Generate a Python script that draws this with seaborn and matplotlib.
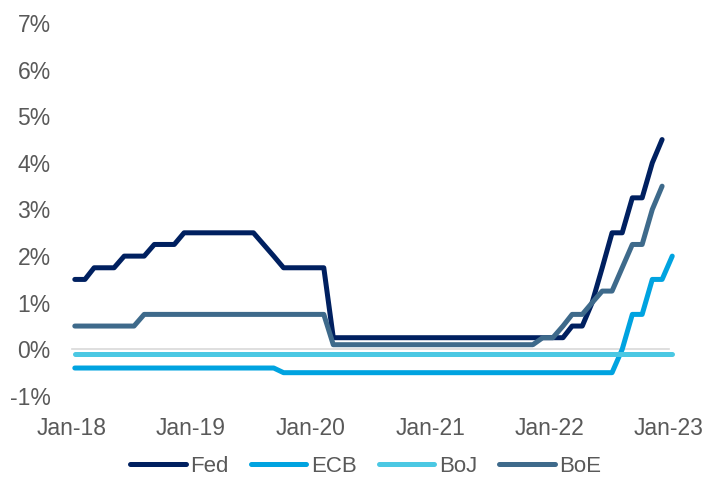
import pandas as pd
import seaborn as sns
import matplotlib.pyplot as plt
import matplotlib.dates as mdates
from matplotlib.ticker import FuncFormatter, MultipleLocator

# Policy rates (%), monthly
# (points sit a little after the 1st of each month in the original)
dates_short = pd.date_range('2018-01-01', '2022-12-01', freq='MS') + pd.Timedelta(days=10)  # Fed, BoE
dates_long = pd.date_range('2018-01-01', '2023-01-01', freq='MS') + pd.Timedelta(days=10)   # ECB, BoJ

fed = [
    1.5, 1.5, 1.75, 1.75, 1.75, 2.0, 2.0, 2.0, 2.25, 2.25, 2.25, 2.5,      # 2018
    2.5, 2.5, 2.5, 2.5, 2.5, 2.5, 2.5, 2.25, 2.0, 1.75, 1.75, 1.75,        # 2019
    1.75, 1.75, 0.25, 0.25, 0.25, 0.25, 0.25, 0.25, 0.25, 0.25, 0.25, 0.25,  # 2020
    0.25, 0.25, 0.25, 0.25, 0.25, 0.25, 0.25, 0.25, 0.25, 0.25, 0.25, 0.25,  # 2021
    0.25, 0.25, 0.5, 0.5, 1.0, 1.75, 2.5, 2.5, 3.25, 3.25, 4.0, 4.5,       # 2022
]
boe = [
    0.5, 0.5, 0.5, 0.5, 0.5, 0.5, 0.5, 0.75, 0.75, 0.75, 0.75, 0.75,
    0.75, 0.75, 0.75, 0.75, 0.75, 0.75, 0.75, 0.75, 0.75, 0.75, 0.75, 0.75,
    0.75, 0.75, 0.1, 0.1, 0.1, 0.1, 0.1, 0.1, 0.1, 0.1, 0.1, 0.1,
    0.1, 0.1, 0.1, 0.1, 0.1, 0.1, 0.1, 0.1, 0.1, 0.1, 0.1, 0.25,
    0.25, 0.5, 0.75, 0.75, 1.0, 1.25, 1.25, 1.75, 2.25, 2.25, 3.0, 3.5,
]
ecb = [
    -0.4, -0.4, -0.4, -0.4, -0.4, -0.4, -0.4, -0.4, -0.4, -0.4, -0.4, -0.4,
    -0.4, -0.4, -0.4, -0.4, -0.4, -0.4, -0.4, -0.4, -0.4, -0.5, -0.5, -0.5,
    -0.5, -0.5, -0.5, -0.5, -0.5, -0.5, -0.5, -0.5, -0.5, -0.5, -0.5, -0.5,
    -0.5, -0.5, -0.5, -0.5, -0.5, -0.5, -0.5, -0.5, -0.5, -0.5, -0.5, -0.5,
    -0.5, -0.5, -0.5, -0.5, -0.5, -0.5, -0.5, 0.0, 0.75, 0.75, 1.5, 1.5,
    2.0,
]
boj = [-0.1] * len(dates_long)

series = ['Fed', 'ECB', 'BoJ', 'BoE']
colors = ['#002060', '#00A3E0', '#4BC8E3', '#3E6A8B']

frames = [
    pd.DataFrame({'date': dates_short, 'rate': fed, 'bank': 'Fed'}),
    pd.DataFrame({'date': dates_long, 'rate': ecb, 'bank': 'ECB'}),
    pd.DataFrame({'date': dates_long, 'rate': boj, 'bank': 'BoJ'}),
    pd.DataFrame({'date': dates_short, 'rate': boe, 'bank': 'BoE'}),
]
df = pd.concat(frames, ignore_index=True)

sns.set_style('white')
plt.rcParams['font.family'] = ['Liberation Sans', 'DejaVu Sans']
grey = '#595959'

fig = plt.figure(figsize=(7.24, 4.79), dpi=100)
ax = fig.add_axes([0.0988, 0.1733, 0.9240 - 0.0988, 0.952 - 0.1733])

sns.lineplot(data=df, x='date', y='rate', hue='bank', hue_order=series,
             palette=dict(zip(series, colors)), linewidth=3.6, ax=ax,
             legend=False)
for line in ax.get_lines():
    line.set_solid_capstyle('round')
    line.set_solid_joinstyle('round')
    line.set_clip_on(False)

ax.set_ylim(-1, 7)
ax.set_xlim(pd.Timestamp('2018-01-01'), pd.Timestamp('2023-01-01'))
ax.yaxis.set_major_locator(MultipleLocator(1))
ax.yaxis.set_major_formatter(FuncFormatter(lambda v, _: f'{v:.0f}%'))
ax.xaxis.set_major_locator(mdates.YearLocator())
ax.xaxis.set_major_formatter(mdates.DateFormatter('Jan-%y'))

for s in ['top', 'right', 'left']:
    ax.spines[s].set_visible(False)
ax.spines['bottom'].set_position(('data', 0))
ax.spines['bottom'].set_color('#D9D9D9')
ax.spines['bottom'].set_linewidth(1.2)
ax.spines['bottom'].set_zorder(0)

ax.tick_params(axis='x', direction='out', length=4, width=1, color='#D9D9D9',
               labelsize=16.5, labelcolor=grey, pad=45)
ax.tick_params(axis='y', length=0, labelsize=16.5, labelcolor=grey, pad=15)
ax.set_xlabel('')
ax.set_ylabel('')

handles = [plt.Line2D([], [], color=c, lw=3.6, solid_capstyle='round') for c in colors]
fig.legend(handles, series, loc='lower center', bbox_to_anchor=(0.505, -0.038),
           ncol=4, frameon=False, fontsize=16, labelcolor=grey,
           handlelength=2.5, handletextpad=0.2, columnspacing=1.0)

fig.savefig('out.png', dpi=100)
